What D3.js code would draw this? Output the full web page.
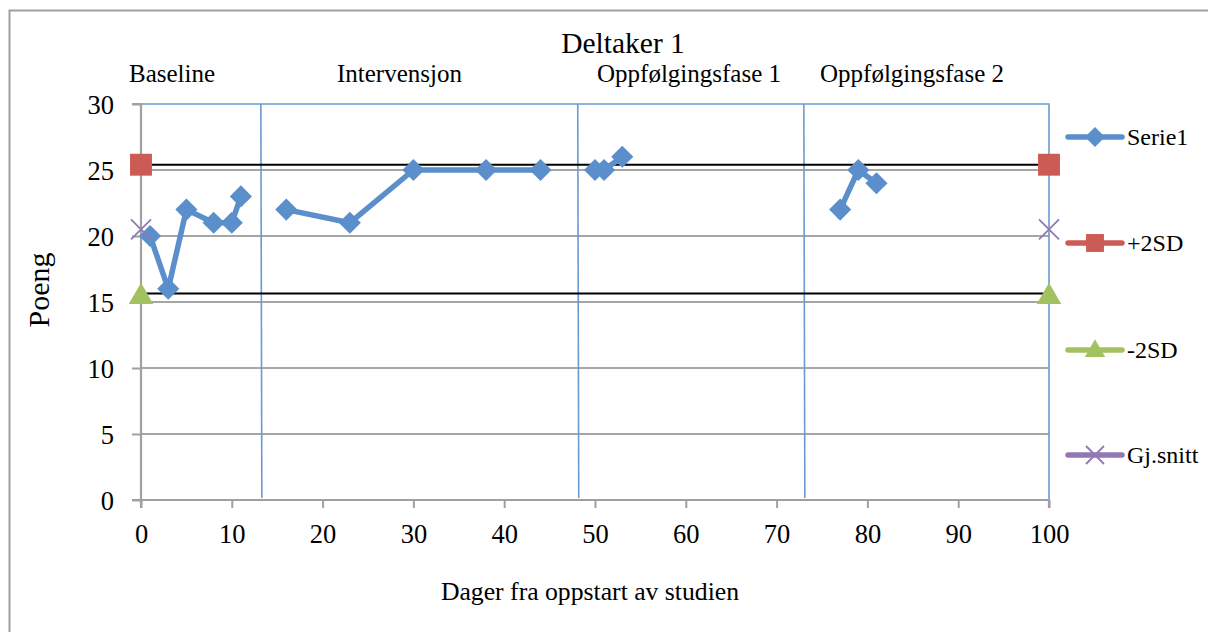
<!DOCTYPE html>
<html>
<head>
<meta charset="utf-8">
<script src="https://cdn.jsdelivr.net/npm/d3@7/dist/d3.min.js"></script>
<style>
  html, body { margin: 0; padding: 0; background: #fff; }
  svg { display: block; }
  text { font-family: "Liberation Serif", "Times New Roman", serif; fill: #000; }
</style>
</head>
<body>
<svg id="chart" width="1208" height="632"></svg>
<script>
// Scores per day for participant 1, split by phase (gaps between phases)
const serieDays   = [1, 3, 5, 8, 10, 11, 16, 23, 30, 38, 44, 50, 51, 53, 77, 79, 81];
const serieScores = [20, 16, 22, 21, 21, 23, 22, 21, 25, 25, 25, 25, 25, 26, 22, 25, 24];
const seriePhase  = [0, 0, 0, 0, 0, 0, 1, 1, 1, 1, 1, 2, 2, 2, 3, 3, 3];

// Reference lines from the baseline: mean and +/- 2 SD, drawn at day 0 and 100
const refDays = [0, 100];
const plus2SD = 25.4;
const minus2SD = 15.65;
const mean = 20.5;

// Phase labels and day positions of the phase separators
const phaseNames = ["Baseline", "Intervensjon", "Oppfølgingsfase 1", "Oppfølgingsfase 2"];
const phaseLabelX = [129, 337, 597, 820];
const phaseBreaks = [13.2, 48.1, 73];

const xTicks = [0, 10, 20, 30, 40, 50, 60, 70, 80, 90, 100];
const yTicks = [0, 5, 10, 15, 20, 25, 30];

const legendNames = ["Serie1", "+2SD", "-2SD", "Gj.snitt"];
const colors = { serie: "#5a8fcb", plus: "#cd5b55", minus: "#a3c15f", mean: "#9278b4" };

const svg = d3.select("#chart");
const plot = { left: 141, right: 1049, top: 104, bottom: 500 };

const x = d3.scaleLinear().domain([0, 100]).range([plot.left, plot.right]);
const y = d3.scaleLinear().domain([0, 30]).range([plot.bottom, plot.top]);

// Outer chart frame
svg.append("rect")
  .attr("x", 9.5).attr("y", 10.5).attr("width", 1400).attr("height", 800)
  .attr("fill", "none").attr("stroke", "#a0a0a0").attr("stroke-width", 2);

// Horizontal gridlines
svg.append("g").selectAll("line")
  .data(yTicks.filter(d => d > 0 && d < 30))
  .join("line")
  .attr("x1", plot.left).attr("x2", plot.right)
  .attr("y1", d => y(d)).attr("y2", d => y(d))
  .attr("stroke", "#a6a6a6").attr("stroke-width", 2);

// Plot area outline (top and right) in blue
svg.append("path")
  .attr("d", `M${plot.left},${y(30)}H${x(100)}V${y(0)}`)
  .attr("fill", "none").attr("stroke", "#6a9bd0").attr("stroke-width", 1.6);

// Phase separators
svg.append("g").selectAll("line")
  .data(phaseBreaks)
  .join("line")
  .attr("x1", d => x(d)).attr("x2", d => x(d) + 1)
  .attr("y1", y(30)).attr("y2", y(0) - 2)
  .attr("stroke", "#6a9bd0").attr("stroke-width", 1.6);

// Axes
const yAxis = d3.axisLeft(y).tickValues(yTicks).tickSize(9).tickPadding(18);
const gy = svg.append("g").attr("transform", `translate(${plot.left},0)`).call(yAxis);
const xAxis = d3.axisBottom(x).tickValues(xTicks).tickSize(8);
const gx = svg.append("g").attr("transform", `translate(0,${plot.bottom})`).call(xAxis);
[gx, gy].forEach(g => {
  g.attr("font-family", null).attr("font-size", null);
  g.select(".domain").attr("stroke", "#a0a0a0").attr("stroke-width", 2.2);
  g.selectAll(".tick line").attr("stroke", "#a0a0a0").attr("stroke-width", 2);
  g.selectAll(".tick text").style("font-size", "26.5px").attr("fill", "#000");
});
gy.select(".domain").attr("d", `M-9,${y(30)}H0V${y(0)}H-9`);
gx.select(".domain").attr("d", `M${x(0)},8V0H${x(100)}V8`);
gx.selectAll(".tick text").attr("y", 43).attr("dy", 0);
gy.selectAll(".tick text").attr("dy", "0.34em");

// +/- 2SD reference lines (black)
[plus2SD, minus2SD].forEach(v => {
  svg.append("line")
    .attr("x1", x(refDays[0])).attr("x2", x(refDays[1]))
    .attr("y1", y(v)).attr("y2", y(v))
    .attr("stroke", "#000").attr("stroke-width", 2);
});

// Serie1 lines, one segment group per phase
const line = d3.line().x(d => x(d.day)).y(d => y(d.score));
const points = serieDays.map((d, i) => ({ day: d, score: serieScores[i], phase: seriePhase[i] }));
const groups = d3.groups(points, d => d.phase);
svg.append("g").selectAll("path")
  .data(groups)
  .join("path")
  .attr("d", d => line(d[1]))
  .attr("fill", "none").attr("stroke", colors.serie).attr("stroke-width", 5.5)
  .attr("stroke-linejoin", "round");

const diamond = d3.symbol().type(d3.symbolSquare).size(245);
svg.append("g").selectAll("path")
  .data(points)
  .join("path")
  .attr("d", diamond)
  .attr("transform", d => `translate(${x(d.day)},${y(d.score)}) rotate(45)`)
  .attr("fill", colors.serie);

// Reference markers
const square = d3.symbol().type(d3.symbolSquare).size(480)();
const triangle = d3.symbol().type(d3.symbolTriangle).size(260)();
const cross = "M-10,-10L10,10M-10,10L10,-10";

refDays.forEach(dd => {
  svg.append("path").attr("d", square)
    .attr("transform", `translate(${x(dd)},${y(plus2SD)})`).attr("fill", colors.plus);
  svg.append("path").attr("d", triangle)
    .attr("transform", `translate(${x(dd)},${y(minus2SD) + 3.5})`).attr("fill", colors.minus);
  svg.append("path").attr("d", cross)
    .attr("transform", `translate(${x(dd)},${y(mean)})`)
    .attr("stroke", colors.mean).attr("stroke-width", 1.8).attr("fill", "none");
});

// Legend
const legendY = [137, 243, 350, 455];
const legendColors = [colors.serie, colors.plus, colors.minus, colors.mean];
const legendMarkers = [
  d3.symbol().type(d3.symbolSquare).size(200)(),
  d3.symbol().type(d3.symbolSquare).size(320)(),
  d3.symbol().type(d3.symbolTriangle).size(180)(),
  "M-9,-9L9,9M-9,9L9,-9"
];
legendNames.forEach((name, i) => {
  const g = svg.append("g").attr("transform", `translate(0,${legendY[i]})`);
  g.append("line").attr("x1", 1068).attr("x2", 1122).attr("y1", 0).attr("y2", 0)
    .attr("stroke", legendColors[i]).attr("stroke-width", 5.5).attr("stroke-linecap", "round");
  const m = g.append("path").attr("d", legendMarkers[i]);
  if (i === 0) m.attr("transform", "translate(1095,0) rotate(45)").attr("fill", legendColors[i]);
  else if (i === 2) m.attr("transform", "translate(1095,1)").attr("fill", legendColors[i]);
  else if (i === 3) m.attr("transform", "translate(1095,0)").attr("stroke", legendColors[i]).attr("stroke-width", 1.8).attr("fill", "none");
  else m.attr("transform", "translate(1095,0)").attr("fill", legendColors[i]);
  g.append("text").attr("x", 1127).attr("y", 0).attr("dy", "0.34em")
    .style("font-size", "24px").text(name);
});

// Titles
svg.append("text").attr("x", 623).attr("y", 53).attr("text-anchor", "middle")
  .style("font-size", "29.5px").text("Deltaker 1");
svg.append("g").selectAll("text")
  .data(phaseNames)
  .join("text")
  .attr("x", (d, i) => phaseLabelX[i]).attr("y", 82)
  .style("font-size", "25px").text(d => d);
svg.append("text").attr("transform", `translate(49,290) rotate(-90)`)
  .attr("text-anchor", "middle").style("font-size", "30px").text("Poeng");
svg.append("text").attr("x", 590).attr("y", 600).attr("text-anchor", "middle")
  .style("font-size", "25.7px").text("Dager fra oppstart av studien");
</script>
</body>
</html>
